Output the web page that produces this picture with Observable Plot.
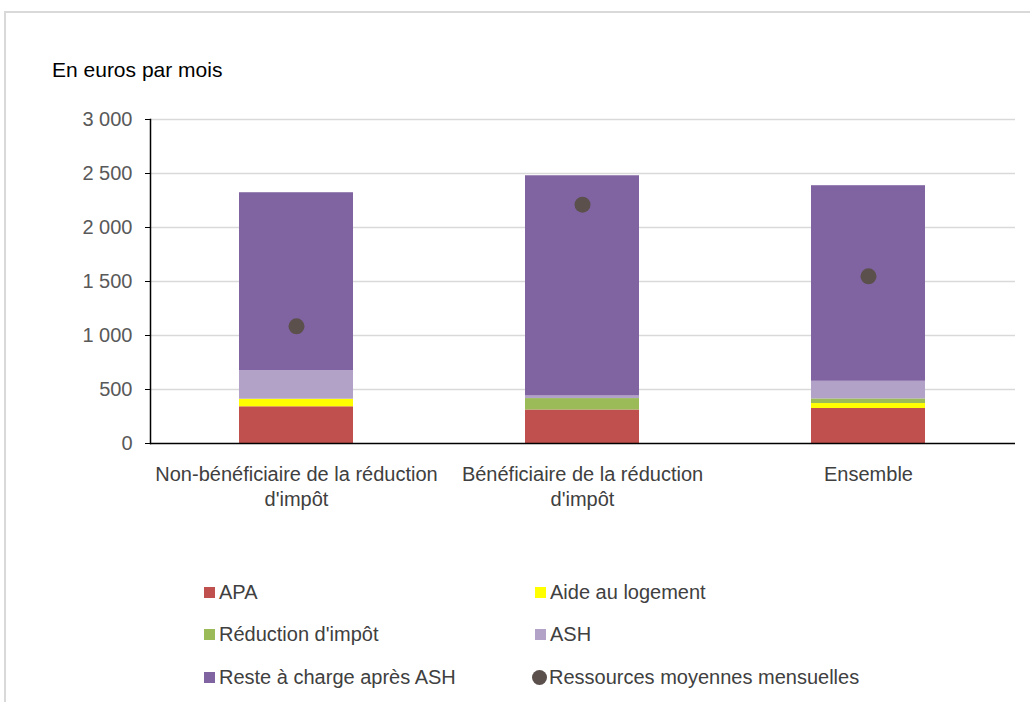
<!DOCTYPE html>
<html>
<head>
<meta charset="utf-8">
<script src="https://cdn.jsdelivr.net/npm/d3@7"></script>
<script src="https://cdn.jsdelivr.net/npm/@observablehq/plot@0.6"></script>
<style>
  html, body { margin: 0; padding: 0; background: #fff; overflow: hidden; }
  body { width: 1030px; height: 702px; position: relative; font-family: "Liberation Sans", Arial, sans-serif; }
  #border { position: absolute; left: 4px; top: 11px; width: 1100px; height: 800px; border-top: 2px solid #d9d9d9; border-left: 2px solid #d9d9d9; }
  #title { position: absolute; left: 52px; top: 58px; font-size: 21px; line-height: 24px; color: #000; }
  #chart { position: absolute; left: 0; top: 100px; }
  .leg { position: absolute; font-size: 20px; color: #404040; display: flex; align-items: center; white-space: nowrap; }
  .sw { width: 11px; height: 11px; margin-right: 4px; }
  .dot { width: 15px; height: 15px; border-radius: 50%; margin-right: 2px; }
</style>
</head>
<body>
<div id="border"></div>
<div id="title">En euros par mois</div>
<div id="chart"></div>
<div id="legend"></div>
<script>
const categories = ["Non-bénéficiaire de la réduction d'impôt", "Bénéficiaire de la réduction d'impôt", "Ensemble"];
const categoryLabels = ["Non-bénéficiaire de la réduction\nd'impôt", "Bénéficiaire de la réduction\nd'impôt", "Ensemble"];
const seriesNames = ["APA", "Aide au logement", "Réduction d'impôt", "ASH", "Reste à charge après ASH"];
const seriesColors = ["#C0504D", "#FFFF00", "#9BBB59", "#B3A2C7", "#8064A2"];
const apa = [340, 310, 324];
const aideLogement = [70, 0, 46];
const reductionImpot = [0, 106, 43];
const ash = [265, 24, 163];
const resteACharge = [1647, 2039, 1811];
const ressources = [1085, 2211, 1548];
const dotName = "Ressources moyennes mensuelles";
const dotColor = "#5B504C";
const yTicks = [0, 500, 1000, 1500, 2000, 2500, 3000];

const seriesValues = [apa, aideLogement, reductionImpot, ash, resteACharge];
const stacked = [];
categories.forEach((c, i) => {
  seriesNames.forEach((s, j) => stacked.push({cat: c, series: s, value: seriesValues[j][i]}));
});
const dots = categories.map((c, i) => ({cat: c, value: ressources[i]}));

const fmt = d => d3.format(",")(d).replace(/,/g, "\u00a0");

const plot = Plot.plot({
  width: 1030,
  height: 420,
  marginLeft: 150,
  marginRight: 15,
  marginTop: 19,
  marginBottom: 77,
  style: {fontFamily: "Liberation Sans, Arial, sans-serif", background: "transparent"},
  x: {domain: categories, paddingInner: 0.6, paddingOuter: 0.31, label: null},
  y: {domain: [0, 3000], label: null},
  color: {domain: seriesNames, range: seriesColors},
  marks: [
    Plot.ruleY(yTicks.filter(d => d > 0), {stroke: "#d9d9d9", strokeWidth: 1.5}),
    Plot.barY(stacked, {x: "cat", y: "value", fill: "series", order: seriesNames}),
    Plot.dot(dots, {x: "cat", y: "value", r: 8, fill: dotColor}),
    Plot.axisY({ticks: yTicks, tickFormat: fmt, tickSize: 5, tickPadding: 13, fontSize: 20, color: "#595959", stroke: "#000", strokeOpacity: 1, label: null}),
    Plot.axisX({tickSize: 0, tickPadding: 20, fontSize: 20, lineHeight: 1.25, color: "#404040", label: null,
      tickFormat: (d) => categoryLabels[categories.indexOf(d)]}),
    Plot.frame({anchor: "left", stroke: "#000", strokeWidth: 1.5}),
    Plot.ruleY([0], {stroke: "#000", strokeWidth: 1.5})
  ]
});
document.getElementById("chart").appendChild(plot);

const legendItems = [
  {name: seriesNames[0], color: seriesColors[0], x: 204, y: 592},
  {name: seriesNames[1], color: seriesColors[1], x: 535, y: 592},
  {name: seriesNames[2], color: seriesColors[2], x: 204, y: 634},
  {name: seriesNames[3], color: seriesColors[3], x: 535, y: 634},
  {name: seriesNames[4], color: seriesColors[4], x: 204, y: 677},
  {name: dotName, color: dotColor, x: 532, y: 677, dot: true}
];
const leg = document.getElementById("legend");
legendItems.forEach(it => {
  const el = document.createElement("div");
  el.className = "leg";
  el.style.left = it.x + "px";
  el.style.top = (it.y - 12) + "px";
  el.style.height = "24px";
  const sw = document.createElement("span");
  sw.className = it.dot ? "dot" : "sw";
  sw.style.background = it.color;
  el.appendChild(sw);
  const t = document.createElement("span");
  t.textContent = it.name;
  el.appendChild(t);
  leg.appendChild(el);
});
</script>
</body>
</html>
